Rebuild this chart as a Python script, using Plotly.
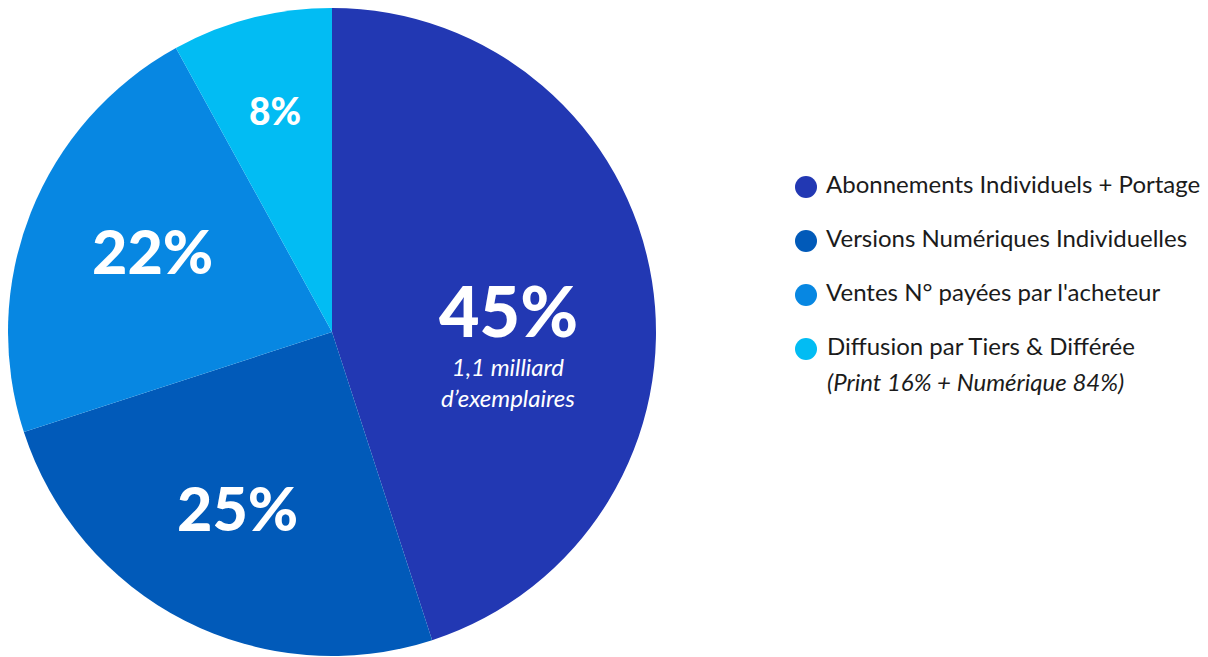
import plotly.graph_objects as go

categories = [
    "Abonnements Individuels + Portage",
    "Versions Numériques Individuelles",
    "Ventes N° payées par l'acheteur",
    "Diffusion par Tiers & Différée",
]
values = [45, 25, 22, 8]
pct_labels = ["45%", "25%", "22%", "8%"]
colors = ["#2238B3", "#015AB9", "#0787E2", "#02BCF3"]
sub_note = "1,1 milliard<br>d’exemplaires"
legend_note = "(Print 16% + Numérique 84%)"

W, H = 1208, 657
FONT = "Lato"

fig = go.Figure()
fig.add_trace(go.Pie(
    labels=categories, values=values, sort=False, direction="clockwise",
    rotation=0, marker=dict(colors=colors, line=dict(width=0)),
    textinfo="none", hoverinfo="label+percent", showlegend=False,
    domain=dict(x=[0, 648 / W], y=[1 - 648 / H, 1]),
))

# legend drawn as a scatter on a hidden axis: one row per category
rows = list(range(len(categories)))
fig.add_trace(go.Scatter(
    x=[0] * len(categories), y=rows, mode="markers+text",
    marker=dict(size=22, color=colors, line=dict(width=0)),
    text=[" " + c for c in categories], textposition="middle right",
    textfont=dict(family=FONT, size=24, color="#1b1b1b"),
    hoverinfo="skip", showlegend=False, xaxis="x2", yaxis="y2", cliponaxis=False,
))

step = 54.0
top = 179.0
fig.update_layout(
    width=W, height=H, margin=dict(l=0, r=0, t=0, b=0),
    paper_bgcolor="white", plot_bgcolor="rgba(0,0,0,0)",
    font=dict(family=FONT),
    xaxis2=dict(domain=[798 / W, 1.0], range=[0, 1], visible=False, fixedrange=True),
    yaxis2=dict(domain=[0, 1], range=[(H - top) / step, -top / step], visible=False,
                fixedrange=True, anchor="x2"),
)

def py(p):
    return 1 - p / H

ann = [
    dict(text=pct_labels[0], x=500, y=302, size=70),
    dict(text=pct_labels[1], x=229, y=499, size=61),
    dict(text=pct_labels[2], x=144, y=242, size=61),
    dict(text=pct_labels[3], x=267, y=102, size=37),
]
for a in ann:
    fig.add_annotation(text=a["text"], x=a["x"] / W, y=py(a["y"]), xref="paper", yref="paper",
                       showarrow=False, xanchor="center", yanchor="middle",
                       font=dict(family=FONT, size=a["size"], color="white", weight=900))
fig.add_annotation(text="<i>" + sub_note + "</i>", x=500 / W, y=py(374), xref="paper", yref="paper",
                   showarrow=False, xanchor="center", yanchor="middle",
                   font=dict(family=FONT, size=24, color="white"))
fig.add_annotation(text="<i>" + legend_note + "</i>", x=0, y=rows[-1], xref="x2", yref="y2",
                   showarrow=False, xanchor="left", yanchor="middle", xshift=19, yshift=-32,
                   font=dict(family=FONT, size=24, color="#1b1b1b"))

fig.write_html("out.html")
